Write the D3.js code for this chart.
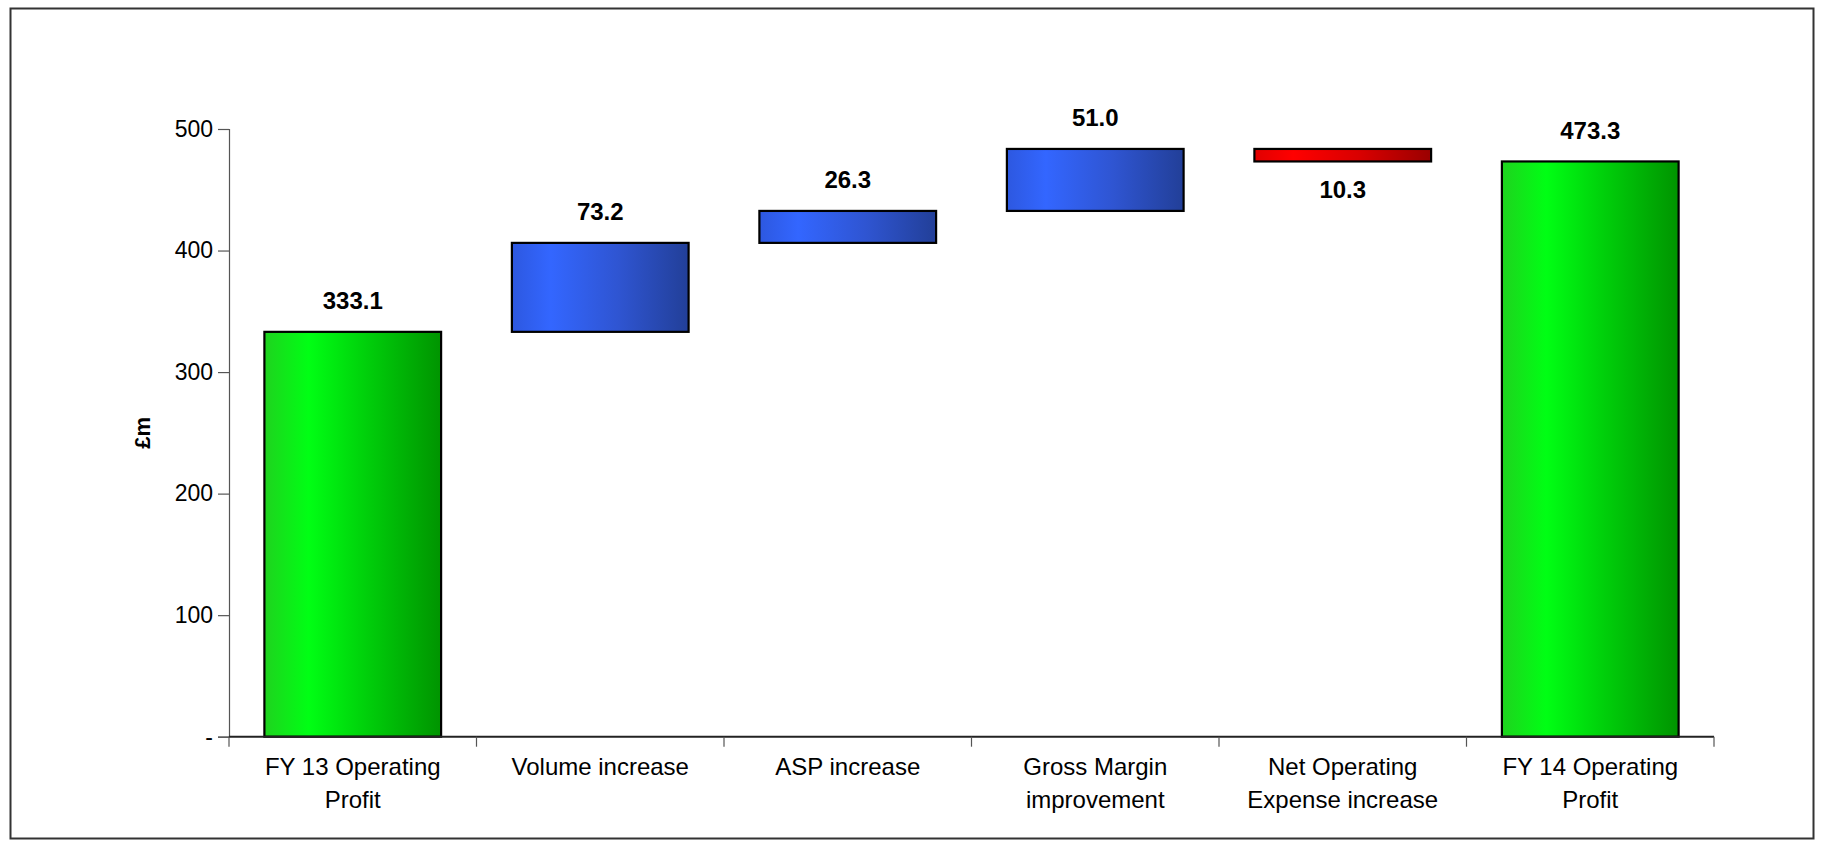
<!DOCTYPE html>
<html>
<head>
<meta charset="utf-8">
<script src="https://cdn.jsdelivr.net/npm/d3@7"></script>
<style>
  html, body { margin: 0; padding: 0; background: #fff; }
  svg { display: block; font-family: "Liberation Sans", Arial, sans-serif; }
</style>
</head>
<body>
<svg id="chart" width="1824" height="847"></svg>
<script>
// Operating profit bridge, FY 13 to FY 14 (£m)
const categories = [
  ["FY 13 Operating", "Profit"],
  ["Volume increase"],
  ["ASP increase"],
  ["Gross Margin", "improvement"],
  ["Net Operating", "Expense increase"],
  ["FY 14 Operating", "Profit"]
];
const kinds = ["total", "delta", "delta", "delta", "delta", "total"];
const values = [333.1, 73.2, 26.3, 51.0, -10.3, 473.3];
const yTicks = [0, 100, 200, 300, 400, 500];

const svg = d3.select("#chart");
const W = 1824, H = 847;
const plot = { left: 229, right: 1714, top: 129, bottom: 736.7 };

// Frame
svg.append("rect")
  .attr("x", 10.5).attr("y", 8.5)
  .attr("width", 1803).attr("height", 830)
  .attr("fill", "#fff").attr("stroke", "#333").attr("stroke-width", 2);

// Gradients
const defs = svg.append("defs");
function grad(id, stops) {
  const g = defs.append("linearGradient").attr("id", id)
    .attr("x1", "0%").attr("x2", "100%").attr("y1", "0%").attr("y2", "0%");
  stops.forEach(([o, c]) => g.append("stop").attr("offset", o).attr("stop-color", c));
}
grad("gGreen", [["0%", "#1fd31f"], ["25%", "#00ff14"], ["60%", "#00cc0a"], ["100%", "#009400"]]);
grad("gBlue",  [["0%", "#2d58e0"], ["22%", "#3366ff"], ["60%", "#2f55d2"], ["100%", "#223f98"]]);
grad("gRed",   [["0%", "#e00000"], ["22%", "#ff0000"], ["60%", "#d80000"], ["100%", "#9a0000"]]);

// Scales
const x = d3.scaleBand()
  .domain(d3.range(categories.length))
  .range([plot.left, plot.right])
  .paddingInner(0.286).paddingOuter(0.143);
const step = x.step();
const y = d3.scaleLinear().domain([0, 500]).range([plot.bottom, plot.top]);

// Waterfall spans
let running = 0;
const bars = values.map((v, i) => {
  let lo, hi;
  if (kinds[i] === "total") { lo = 0; hi = v; running = v; }
  else { const start = running; running += v; lo = Math.min(start, running); hi = Math.max(start, running); }
  return { i, v, lo, hi, kind: kinds[i] };
});

// Y axis
const yAxis = d3.axisLeft(y).tickValues(yTicks).tickSize(11).tickPadding(5)
  .tickFormat(d => d === 0 ? "-" : d3.format("d")(d));
const gy = svg.append("g").attr("transform", `translate(${plot.left},0)`).call(yAxis);
gy.select(".domain").attr("stroke", "#555").attr("stroke-width", 1.2);
gy.selectAll(".tick line").attr("stroke", "#555").attr("stroke-width", 1.2);
gy.selectAll(".tick text").attr("font-size", 23).attr("fill", "#000")
  .attr("font-family", "Liberation Sans, Arial, sans-serif");

// Bars
svg.append("g").selectAll("rect").data(bars).join("rect")
  .attr("x", d => x(d.i))
  .attr("width", x.bandwidth())
  .attr("y", d => y(d.hi))
  .attr("height", d => y(d.lo) - y(d.hi))
  .attr("fill", d => d.kind === "total" ? "url(#gGreen)" : (d.v >= 0 ? "url(#gBlue)" : "url(#gRed)"))
  .attr("stroke", "#000").attr("stroke-width", 2.2);

// X axis line and category ticks
const boundaries = d3.range(categories.length + 1).map(k => plot.left + k * step);
svg.append("line")
  .attr("x1", plot.left).attr("x2", plot.right)
  .attr("y1", y(0)).attr("y2", y(0))
  .attr("stroke", "#222").attr("stroke-width", 2);
svg.append("g").selectAll("line").data(boundaries).join("line")
  .attr("x1", d => d).attr("x2", d => d)
  .attr("y1", y(0)).attr("y2", y(0) + 10)
  .attr("stroke", "#555").attr("stroke-width", 1.2);

// Category labels
const lab = svg.append("g").attr("font-size", 24).attr("fill", "#000").attr("text-anchor", "middle");
categories.forEach((lines, i) => {
  const t = lab.append("text").attr("x", x(i) + x.bandwidth() / 2).attr("y", 775);
  lines.forEach((ln, k) => t.append("tspan")
    .attr("x", x(i) + x.bandwidth() / 2).attr("y", 775 + k * 33).text(ln));
});

// Value labels
svg.append("g").selectAll("text").data(bars).join("text")
  .attr("x", d => x(d.i) + x.bandwidth() / 2)
  .attr("y", d => d.v >= 0 ? y(d.hi) - 22.5 : y(d.lo) + 37)
  .attr("text-anchor", "middle")
  .attr("font-size", 24).attr("font-weight", "bold").attr("fill", "#000")
  .text(d => d3.format(".1f")(Math.abs(d.v)));

// Y axis title
svg.append("text")
  .attr("transform", `translate(150,${(plot.top + plot.bottom) / 2}) rotate(-90)`)
  .attr("text-anchor", "middle")
  .attr("font-size", 22).attr("font-weight", "bold").attr("fill", "#000")
  .text("£m");
</script>
</body>
</html>
